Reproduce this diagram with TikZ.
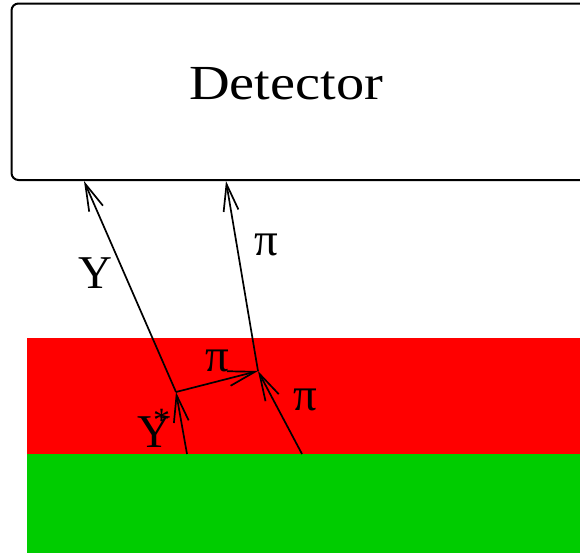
\documentclass[tikz,border=0pt]{standalone}
\usepackage{fontspec}
\setmainfont{Liberation Serif}
\usetikzlibrary{arrows.meta}
\definecolor{bandred}{RGB}{255,0,0}
\definecolor{bandgreen}{RGB}{0,204,0}
\tikzset{
  track/.style={line width=1.7pt,-{Straight Barb[length=27pt,width=15pt,line width=1.7pt]}},
  lbl/.style={anchor=base,inner sep=0pt,font=\fontsize{47}{50}\selectfont},
  detbox/.style={draw,line width=2pt,rounded corners=7pt}
}
\begin{document}
\begin{tikzpicture}[x=1pt,y=-1pt]
\useasboundingbox (0,0) rectangle (580,552);
\clip (0,0) rectangle (580,552);
\fill[bandred] (27,338) rectangle (585,454);
\fill[bandgreen] (27,454) rectangle (585,557);
\draw[detbox] (11.5,3.5) rectangle (620,180);
\node[lbl,xscale=1.15,transform shape,font=\fontsize{49}{52}\selectfont] (det) at (286,99) {Detector};
\coordinate (g1) at (187,454);
\coordinate (v1) at (176,392);
\coordinate (v2) at (258,371);
\coordinate (g2) at (302,454);
\coordinate (d1) at (84,181);
\coordinate (d2) at (226,181);
\draw[track] (g1) -- (v1);
\draw[track] (v1) -- (d1);
\draw[track] (v1) -- (v2);
\draw[track] (g2) -- (v2);
\draw[track] (v2) -- (d2);
\node[lbl] (ly) at (95,288) {Y};
\node[lbl,anchor=base west] (lys) at (137,447) {Y\kern-18pt\raisebox{16pt}{\fontsize{34}{36}\selectfont *}};
\node[lbl] (lp1) at (266,255) {π};
\node[lbl] (lp2) at (217,371) {π};
\node[lbl] (lp3) at (305,410) {π};
\end{tikzpicture}
\end{document}
